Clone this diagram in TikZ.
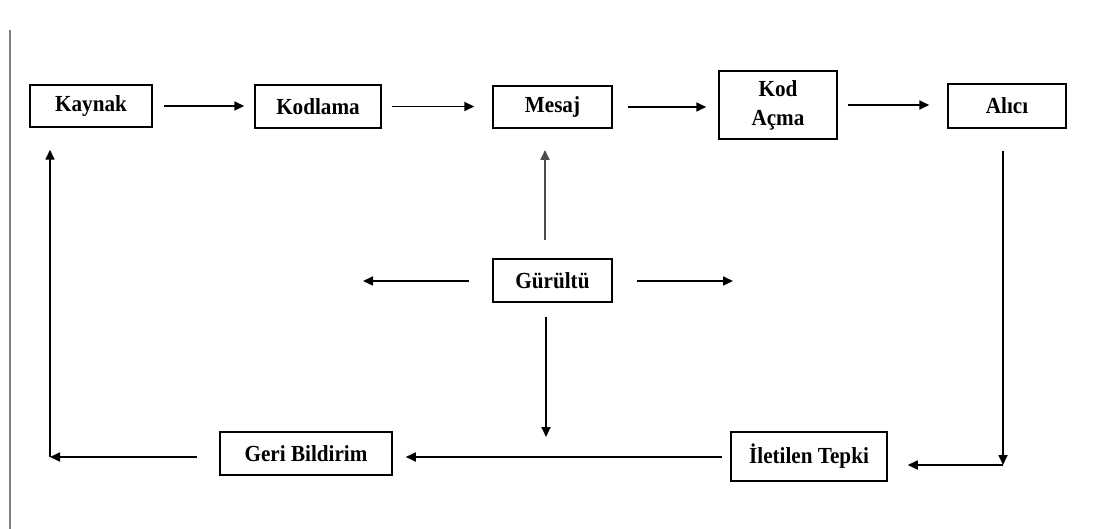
\documentclass[tikz,border=0pt]{standalone}
\usepackage{fontspec}
\setmainfont{Liberation Serif}
\newfontfamily\boxfont[FakeStretch=0.92]{Liberation Serif}
\usetikzlibrary{arrows.meta}
\begin{document}
\begin{tikzpicture}[x=1pt,y=-1pt,
  box/.style={draw=black,line width=1.5pt,font=\boxfont\bfseries\fontsize{23}{29}\selectfont,inner sep=0pt,align=center},
  arr/.style={draw=black,line width=1.7pt,-{Triangle[length=10pt,width=9pt]}},
  ln/.style={draw=black,line width=1.7pt}]
\useasboundingbox (0,0) rectangle (1103,529);
\fill[white] (0,0) rectangle (1103,529);
\draw[gray,line width=1.5pt] (10,30) -- (10,529);
% boxes
\node[box,minimum width=122pt,minimum height=42pt] (kay) at (91,106) {Kaynak};
\node[box,minimum width=126pt,minimum height=43pt] (kod) at (318,106.5) {Kodlama};
\node[box,minimum width=119pt,minimum height=42pt] (mes) at (552.5,107) {Mesaj};
\node[box,minimum width=118pt,minimum height=68pt] (ka) at (778,105) {Kod\\Açma};
\node[box,minimum width=118pt,minimum height=44pt] (alc) at (1007,106) {Alıcı};
\node[box,minimum width=119pt,minimum height=43pt] (gur) at (552.5,280.5) {Gürültü};
\node[box,minimum width=172pt,minimum height=43pt] (geri) at (306,453.5) {Geri Bildirim};
\node[box,minimum width=156pt,minimum height=49pt] (ilt) at (809,456.5) {İletilen Tepki};
% free ends
\coordinate (gl) at (363,281);
\coordinate (gr) at (733,281);
\coordinate (gd) at (546,437);
\coordinate (gu) at (545,150);
\coordinate (gs) at (545,240);
\coordinate (gds) at (546,317);
\coordinate (ac) at (1003,465);
\coordinate (kc) at (50,457);
% top row
\draw[arr,shorten <=11pt,shorten >=10pt] (kay.east) -- (kod.west|-kay.east);
\draw[arr,shorten <=10pt,shorten >=18pt] (kod.east) -- (mes.west|-kod.east);
\draw[arr,shorten <=15pt,shorten >=12pt] (mes.east) -- (ka.west|-mes.east);
\draw[arr,shorten <=10pt,shorten >=18pt] (ka.east) -- (alc.west|-ka.east);
% noise
\draw[arr,draw=black!70,fill=black] (gs) -- (gu);
\draw[arr,shorten <=23pt] (gur.west|-gl) -- (gl);
\draw[arr,shorten <=24pt] (gur.east|-gr) -- (gr);
\draw[arr] (gds) -- (gd);
% feedback loop
\draw[arr,shorten <=22pt] (alc.south-|ac) -- (ac);
\draw[arr,shorten >=20pt] (ac) -- (ilt.east|-ac);
\draw[arr,shorten <=8pt,shorten >=13pt] (ilt.west|-kc) -- (geri.east|-kc);
\draw[arr,shorten <=22pt] (geri.west|-kc) -- (kc);
\draw[arr,shorten >=22pt] (kc) -- (kay.south-|kc);
\end{tikzpicture}
\end{document}
